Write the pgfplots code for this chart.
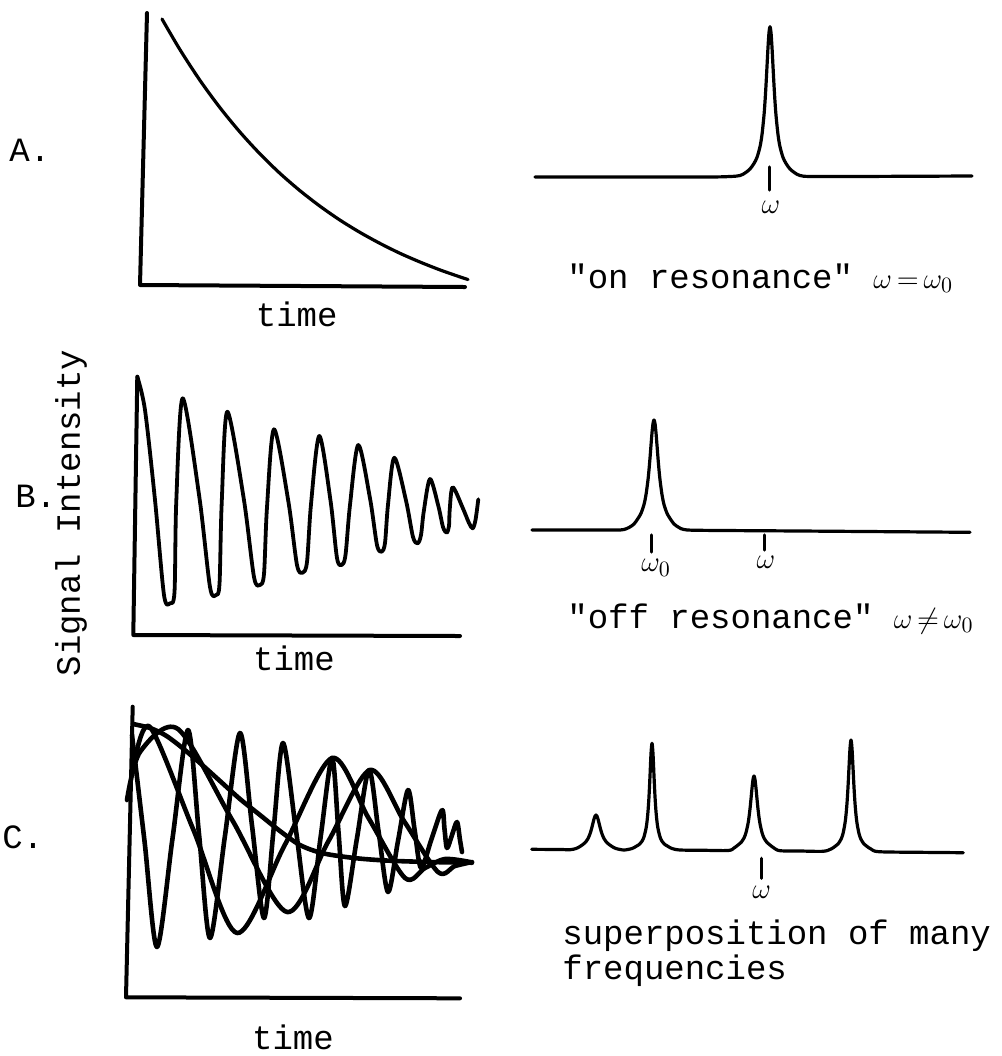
\documentclass[border=0pt]{standalone}
\usepackage{pgfplots}
\pgfplotsset{compat=1.18}
\usepackage{fontspec}
\setmonofont{Liberation Mono}
\newcommand\lab{\fontsize{17}{17.5}\selectfont\ttfamily}
\newcommand\sym[1]{{\fontsize{15}{15}\selectfont$#1$}}

% every panel uses the same scale: one unit = one pixel of the scan, y down
\pgfplotsset{
  panel/.style={hide axis, clip=false, x=0.5pt, y=0.5pt, y dir=reverse,
    enlargelimits=false, anchor=north west},
  ink/.style={black, line width=1.6pt, no markers, line join=round, line cap=round},
  thick ink/.style={ink, line width=2.3pt},
  frame/.style={ink, line width=2pt},
}

\begin{document}
\begin{tikzpicture}[every node/.style={font=\lab, inner sep=0pt}]
\useasboundingbox (0,0) rectangle (501pt,-528pt);

% ---------------- A: free decay, on resonance ----------------
\begin{axis}[panel, xmin=125, xmax=480, ymin=10, ymax=290, at={(62.5pt,-5pt)}]
\addplot[frame] coordinates {(147,13) (140,285) (465,287)};
\addplot[ink, smooth] coordinates {
  (162,19) (180,49.7) (200,80.4) (220,107.7) (240,132.1) (260,153.9)
  (280,173.4) (300,190.7) (320,206.2) (340,220.1) (360,232.4) (380,243.4)
  (400,253.3) (420,262) (440,269.9) (460,276.9) (468,279.5)};
\node[anchor=base west] at (axis cs:9,161.7) {A.};
\node[anchor=base] at (axis cs:296.7,326.7) {time};
\end{axis}

\begin{axis}[panel, xmin=530, xmax=980, ymin=20, ymax=215, at={(265pt,-10pt)}]
\addplot[ink, smooth] coordinates {
  (535,177) (700,177) (730,176.5) (740,175.5) (745,173) (750,169) (754,163.4)
  (757,157.4) (760,146.7) (762,134.6) (764,115.2) (765,101.7) (766,85.2)
  (767,66.4) (768,47.4) (769,32.5) (770,26.7) (771,32.5) (772,47.4) (773,66.4)
  (774,85.2) (775,101.7) (776,115.2) (778,134.6) (780,146.7) (783,157.4)
  (786,163.4) (790,169) (795,173) (800,175.5) (810,176.5) (850,176.5) (972,176)};
\addplot[ink] coordinates {(769.3,167) (769.3,190)};
\node[anchor=base] at (axis cs:771,213.3) {\sym{\omega}};
\node[anchor=base west] at (axis cs:567,288.3) {"on resonance" \sym{\omega\,{=}\,\omega_0}};
\end{axis}

% ---------------- B: off resonance ----------------
\begin{axis}[panel, xmin=125, xmax=485, ymin=370, ymax=640, at={(62.5pt,-185pt)}]
\addplot[frame] coordinates {(137.3,376.7) (133.3,635) (460,636)};
\addplot[ink, line width=1.9pt, smooth] coordinates {
  (137.3,376.7) (145,410) (155,500) (164,595) (170,603.3) (174.5,592)
  (176.3,500.8) (182.7,398.3) (199.3,496.7) (210,587) (216,595) (219.5,584)
  (221.7,503.3) (227.3,411.7) (243.7,498.3) (254,577) (260,585) (264,574)
  (267,507.2) (274,429.3) (288.3,501) (297,565) (302.7,572.7) (307,562)
  (311,504.3) (319.3,436) (330.5,500.5) (337,558) (341.7,565) (345.5,555)
  (350,505) (358.3,445) (370,498.3) (377,545) (381.7,551.7) (385,543)
  (388,504.7) (394.3,457.7) (406,500.5) (413,537) (417.7,543.3) (421,535)
  (423.8,511.2) (430,479) (438.3,505.8) (443,527) (446.7,532.7) (449,526)
  (449.7,510) (452.7,487.3) (462.7,507.8) (469,523) (472.7,528.3) (475.5,520)
  (478.3,499.3)};
\node[anchor=base west] at (axis cs:15,507) {B.};
\node[anchor=base, rotate=90] at (axis cs:80,513) {Signal Intensity};
\node[anchor=base] at (axis cs:294,670) {time};
\end{axis}

\begin{axis}[panel, xmin=530, xmax=980, ymin=410, ymax=580, at={(265pt,-205pt)}]
\addplot[ink, smooth] coordinates {
  (532,530) (610,530) (620,530) (624,529.5) (629,527.5) (634,524) (638,518.4)
  (641,513.3) (644,504.5) (646,494.7) (648,479.8) (649,469.8) (650,458.1)
  (651,445.2) (652,432.8) (653,423.5) (654,420) (655,423.5) (656,432.8)
  (657,445.2) (658,458.1) (659,469.8) (660,479.8) (662,494.7) (664,504.5)
  (667,513.3) (670,518.4) (674,524) (679,527.5) (684,529.5) (700,530.3)
  (800,531) (970,532.3)};
\addplot[ink] coordinates {(651.7,535) (651.7,552)};
\addplot[ink] coordinates {(764.3,535) (764.3,550)};
\node[anchor=base] at (axis cs:656,571.7) {\sym{\omega_0}};
\node[anchor=base] at (axis cs:766,568.3) {\sym{\omega}};
\node[anchor=base west] at (axis cs:567,628.3) {"off resonance" \sym{\omega\,{\neq}\,\omega_0}};
\end{axis}

% ---------------- C: several frequencies ----------------
\begin{axis}[panel, xmin=120, xmax=480, ymin=700, ymax=1000, at={(60pt,-350pt)}]
\addplot[frame] coordinates {(132.7,706.7) (126,997.3) (460,998.3)};
% non-oscillating component
\addplot[thick ink, smooth] coordinates {
  (133,724) (150,728) (165,735) (180,746) (200,763) (220,781) (240,799)
  (260,815) (280,831) (300,845) (323,853.3) (357,858.3) (390,860.7)
  (430,862) (472,862.7)};
% fast component
\addplot[thick ink, smooth] coordinates {
  (132,735) (144.5,841) (157,947) (172.5,838.5) (188,730) (199,834) (210,938)
  (225,835.5) (240,733) (252,825.5) (264,918) (273.5,830.5) (283,743)
  (296,830.5) (309,918) (320.5,838) (332,758) (338.5,832) (345,906) (357,838)
  (369,770) (378.5,831) (388,892) (398,841) (408,790) (414.5,829) (421,868)
  (431.5,839) (442,810) (444.5,829) (447,848) (452,835) (457,822) (460,840)
  (462,852)};
% medium component
\addplot[thick ink, smooth] coordinates {
  (134,765) (150,727) (193.5,830) (237,933) (284.5,845.5) (332,758)
  (368.5,818) (405,878) (425,868) (445,859) (470,862)};
% slow component
\addplot[thick ink, smooth] coordinates {
  (127,800) (140,752) (178,729) (232.5,820.5) (287,912) (328.5,841)
  (370,770) (404,821) (438,872) (455,866) (472,862)};
\node[anchor=base west] at (axis cs:2,848.5) {C.};
\node[anchor=base] at (axis cs:293,1049) {time};
\end{axis}

\begin{axis}[panel, xmin=530, xmax=980, ymin=735, ymax=900, at={(265pt,-367.5pt)}]
\addplot[ink, smooth] coordinates {
  (531.7,849.3) (560,849.5) (570,849.7) (576,848.5) (580,846.5) (583,844.4)
  (586,841.6) (588,838.6) (590,833.9) (591,830.7) (592,827) (593,823)
  (594,819.1) (595,816.1) (596,815) (597,816.1) (598,819.1) (599,823)
  (600,827) (601,830.7) (602,833.9) (604,838.6) (606,841.6) (609,844.4)
  (612,846.5) (616,848.5) (624,850) (632,848.5) (636,846.4) (639,844.6)
  (642,841.2) (644,836.8) (646,828.6) (647,821.7) (648,811.5) (649,796.5)
  (650,775.9) (651,753.7) (652,743.3) (653,753.7) (654,775.9) (655,796.5)
  (656,811.5) (657,821.7) (658,828.6) (660,836.8) (662,841.2) (665,844.6)
  (668,846.4) (672,848.5) (680,850) (700,850.2) (728,850.5) (734,848)
  (738,845) (741,842.5) (744,838) (746,832.6) (748,823.7) (749,817.2)
  (750,808.9) (751,798.9) (752,788.3) (753,779.5) (754,776) (755,779.5)
  (756,788.3) (757,798.9) (758,808.9) (759,817.2) (760,823.7) (762,832.6)
  (764,838) (767,842.5) (770,845) (774,848) (780,850.7) (800,851)
  (823,851.3) (831,849) (835,846.4) (838,844) (841,839.3) (843,833.6)
  (845,823.2) (846,814.8) (847,803.2) (848,787.2) (849,767.4) (850,748.4)
  (851,740) (852,748.4) (853,767.4) (854,787.2) (855,803.2) (856,814.8)
  (857,823.2) (859,833.6) (861,839.3) (864,844) (867,846.4) (871,849)
  (879,851.7) (920,852.3) (963.3,852.7)};
\addplot[ink] coordinates {(761.7,858.3) (761.7,878.3)};
\node[anchor=base] at (axis cs:761.7,898.3) {\sym{\omega}};
\node[anchor=base west] at (axis cs:562,944) {superposition of many};
\node[anchor=base west] at (axis cs:562,979) {frequencies};
\end{axis}
\end{tikzpicture}
\end{document}
